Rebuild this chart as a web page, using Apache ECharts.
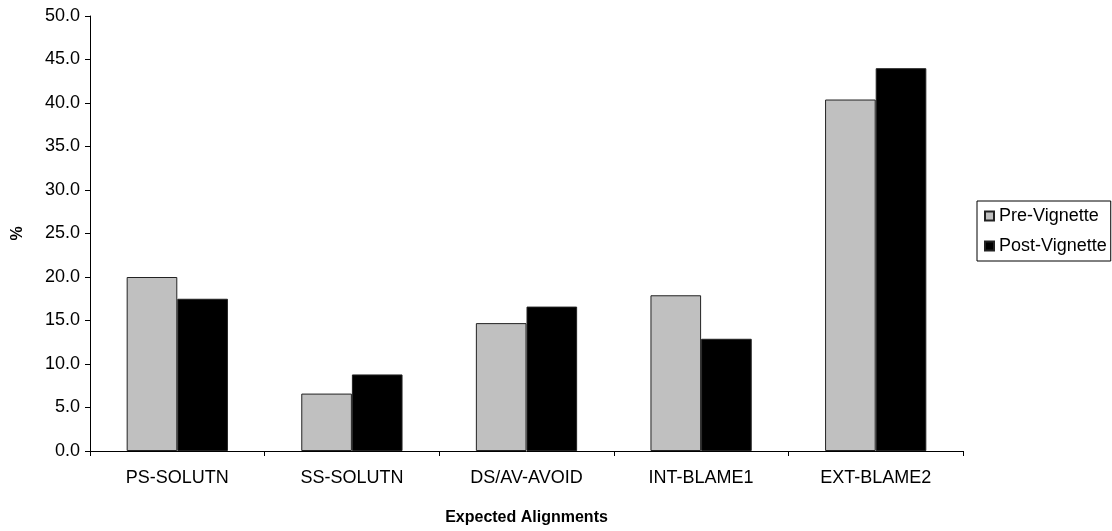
<!DOCTYPE html>
<html><head><meta charset="utf-8">
<script src="https://cdn.jsdelivr.net/npm/echarts@6/dist/echarts.min.js"></script>
<style>html,body{margin:0;padding:0;background:#fff}#c{width:1112px;height:531px}</style>
</head><body><div id="c"></div>
<script>
const categories = ['PS-SOLUTN', 'SS-SOLUTN', 'DS/AV-AVOID', 'INT-BLAME1', 'EXT-BLAME2'];
const preVignette = [20.0, 6.6, 14.7, 17.9, 40.4];
const postVignette = [17.5, 8.8, 16.6, 12.9, 44.0];
const seriesNames = ['Pre-Vignette', 'Post-Vignette'];
const xTitle = 'Expected Alignments';
const yTitle = '%';

const font = 'Liberation Sans, Arial, sans-serif';
const chart = echarts.init(document.getElementById('c'), null, {renderer: 'canvas'});
chart.setOption({
  animation: false,
  backgroundColor: '#fff',
  grid: {left: 90, right: 149, top: 16, bottom: 78, containLabel: false},
  legend: {
    orient: 'vertical', left: 977, top: 201,
    data: seriesNames,
    itemWidth: 9, itemHeight: 9, itemGap: 12,
    borderColor: '#000', borderWidth: 1, padding: [6, 4, 6, 7],
    textStyle: {fontFamily: font, fontSize: 18, lineHeight: 18, color: '#000', padding: [0, 0, 0, 0]},
    icon: 'rect'
  },
  xAxis: {
    type: 'category', data: categories,
    name: xTitle, nameLocation: 'middle', nameGap: 59, nameMoveOverlap: false,
    nameTextStyle: {fontFamily: font, fontSize: 16, fontWeight: 'bold', color: '#000'},
    axisLine: {lineStyle: {color: '#000', width: 1}},
    axisTick: {show: true, length: 5, lineStyle: {color: '#000'}},
    axisLabel: {fontFamily: font, fontSize: 18, color: '#000', margin: 18}
  },
  yAxis: {
    type: 'value', min: 0, max: 50, interval: 5,
    name: yTitle, nameLocation: 'middle', nameGap: 64, nameRotate: 90, nameMoveOverlap: false,
    nameTextStyle: {fontFamily: font, fontSize: 16, fontWeight: 'bold', color: '#000'},
    axisLine: {show: true, lineStyle: {color: '#000', width: 1}},
    axisTick: {show: true, length: 5, lineStyle: {color: '#000'}},
    splitLine: {show: false},
    axisLabel: {fontFamily: font, fontSize: 18, color: '#000', margin: 10,
      formatter: v => v.toFixed(1)}
  },
  series: [
    {name: seriesNames[0], type: 'bar', data: preVignette, barGap: '0%', barCategoryGap: '42%',
     itemStyle: {color: '#C0C0C0', borderColor: '#222', borderWidth: 1}},
    {name: seriesNames[1], type: 'bar', data: postVignette, barGap: '0%', barCategoryGap: '42%',
     itemStyle: {color: '#000000', borderColor: '#222', borderWidth: 1}}
  ]
});
</script></body></html>
